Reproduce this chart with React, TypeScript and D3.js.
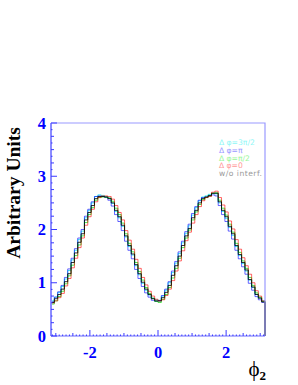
import { useEffect, useRef } from "react";
import * as d3 from "d3";

// 64 bins over [-pi, pi]
const black = [0.63,0.70,0.78,0.88,1.02,1.17,1.38,1.56,1.76,1.92,2.18,2.32,2.45,2.58,2.62,2.62,2.61,2.58,2.50,2.36,2.24,2.08,1.88,1.70,1.54,1.34,1.17,1.01,0.88,0.78,0.70,0.66,
  0.66,0.72,0.82,0.95,1.14,1.32,1.50,1.70,1.88,2.02,2.22,2.36,2.50,2.58,2.61,2.64,2.68,2.68,2.52,2.36,2.24,2.06,1.92,1.70,1.53,1.38,1.24,1.06,0.92,0.78,0.71,0.64];
const red = [0.62,0.66,0.72,0.80,0.94,1.08,1.28,1.46,1.66,1.84,2.08,2.24,2.38,2.52,2.60,2.63,2.63,2.62,2.57,2.45,2.32,2.18,1.98,1.80,1.63,1.44,1.27,1.10,0.96,0.84,0.75,0.69,
  0.66,0.68,0.76,0.88,1.04,1.22,1.41,1.60,1.79,1.95,2.12,2.28,2.43,2.54,2.60,2.62,2.70,2.72,2.60,2.46,2.33,2.16,2.01,1.81,1.63,1.47,1.32,1.16,1.00,0.85,0.75,0.66];
const blue = [0.64,0.73,0.83,0.95,1.10,1.26,1.46,1.64,1.84,2.00,2.25,2.38,2.52,2.62,2.63,2.62,2.60,2.55,2.44,2.28,2.15,1.98,1.78,1.61,1.45,1.25,1.08,0.93,0.81,0.73,0.67,0.65,
  0.66,0.76,0.88,1.02,1.22,1.40,1.58,1.78,1.96,2.10,2.30,2.43,2.55,2.60,2.61,2.63,2.65,2.63,2.45,2.28,2.15,1.97,1.82,1.61,1.45,1.30,1.16,0.99,0.86,0.74,0.68,0.63];
const cyan = [0.66,0.73,0.82,0.93,1.07,1.23,1.43,1.61,1.81,1.97,2.22,2.36,2.50,2.62,2.65,2.64,2.62,2.59,2.49,2.34,2.22,2.06,1.86,1.68,1.52,1.32,1.15,0.99,0.86,0.77,0.71,0.68,
  0.67,0.75,0.86,1.00,1.19,1.37,1.55,1.75,1.93,2.07,2.27,2.41,2.54,2.61,2.63,2.66,2.68,2.67,2.50,2.34,2.21,2.04,1.89,1.68,1.51,1.36,1.22,1.05,0.91,0.78,0.72,0.66];
const green = [0.60,0.66,0.74,0.84,0.98,1.13,1.33,1.51,1.71,1.88,2.13,2.28,2.41,2.55,2.60,2.61,2.61,2.59,2.53,2.40,2.28,2.12,1.92,1.74,1.58,1.38,1.21,1.05,0.91,0.80,0.71,0.65,
  0.63,0.69,0.78,0.91,1.09,1.27,1.46,1.66,1.84,1.99,2.18,2.33,2.47,2.56,2.60,2.63,2.68,2.69,2.55,2.40,2.27,2.10,1.95,1.74,1.57,1.41,1.27,1.10,0.95,0.81,0.73,0.65];

const legendLabels = ["\u0394 \u03c6=3\u03c0/2", "\u0394 \u03c6=\u03c0", "\u0394 \u03c6=\u03c0/2", "\u0394 \u03c6=0", "w/o interf."];
const legendColors = ["#8ff7f7", "#9a9aff", "#9af79a", "#ff9a9a", "#999999"];
const xTicks = [-2, 0, 2];
const yTicks = [0, 1, 2, 3, 4];

export default function App() {
  const ref = useRef<SVGSVGElement>(null);

  useEffect(() => {
    if (!ref.current) return;
    const svg = d3.select(ref.current);
    svg.selectAll("*").remove();

    const left = 51, right = 265, top = 123, bottom = 336;
    const x = d3.scaleLinear().domain([-Math.PI, Math.PI]).range([left, right]);
    const y = d3.scaleLinear().domain([0, 4]).range([bottom, top]);
    const n = black.length;
    const edge = (i: number) => -Math.PI + (i * 2 * Math.PI) / n;

    const line = d3.line<[number, number]>()
      .x(d => x(d[0]))
      .y(d => y(d[1]))
      .curve(d3.curveStepAfter);

    const series = [
      { data: cyan, color: "#00e8e8", op: 0.75 },
      { data: blue, color: "#0000ff", op: 0.6 },
      { data: green, color: "#00e000", op: 0.7 },
      { data: red, color: "#ff0000", op: 0.6 },
      { data: black, color: "#000000", op: 0.8 },
    ];
    series.forEach(s => {
      const pts: [number, number][] = [[edge(0), 0]];
      s.data.forEach((v, i) => pts.push([edge(i), v]));
      pts.push([edge(n), s.data[n - 1]]);
      pts.push([edge(n), 0]);
      svg.append("path")
        .attr("d", line(pts))
        .attr("fill", "none")
        .attr("stroke", s.color)
        .attr("stroke-opacity", s.op)
        .attr("stroke-width", 1);
    });

    // frame
    svg.append("path")
      .attr("d", `M${left},${top}H${right}V${bottom}`)
      .attr("fill", "none")
      .attr("stroke", "#9a9aff")
      .attr("stroke-width", 1.2);
    svg.append("line")
      .attr("x1", left).attr("x2", left).attr("y1", top).attr("y2", bottom)
      .attr("stroke", "#8c8cff").attr("stroke-width", 2);
    svg.append("line")
      .attr("x1", left).attr("x2", right).attr("y1", bottom).attr("y2", bottom)
      .attr("stroke", "#6a6aff").attr("stroke-width", 1);

    // x ticks
    d3.range(-31, 32).forEach(k => {
      const v = k / 10;
      const major = xTicks.includes(v);
      const mid = k % 5 === 0;
      const len = major ? 6 : mid ? 3 : 1.5;
      svg.append("line")
        .attr("x1", x(v)).attr("x2", x(v))
        .attr("y1", bottom).attr("y2", bottom - len)
        .attr("stroke", "#3a3aff").attr("stroke-width", 1);
    });
    // y ticks
    d3.range(0, 33).forEach(k => {
      const v = k / 8;
      const major = k % 8 === 0;
      const mid = k % 2 === 0;
      const len = major ? 6 : mid ? 3 : 1.5;
      svg.append("line")
        .attr("x1", left).attr("x2", left + len)
        .attr("y1", y(v)).attr("y2", y(v))
        .attr("stroke", "#3a3aff").attr("stroke-width", 1);
    });

    const tickFont = "'Liberation Serif', 'DejaVu Serif', serif";
    svg.selectAll("text.xt").data(xTicks).enter().append("text")
      .attr("x", d => x(d)).attr("y", 358)
      .attr("text-anchor", "middle")
      .attr("font-family", tickFont).attr("font-weight", "bold").attr("font-size", 16.5)
      .attr("fill", "#0000ff")
      .text(d => String(d));
    svg.selectAll("text.yt").data(yTicks).enter().append("text")
      .attr("x", 46).attr("y", d => y(d) + 5.5)
      .attr("text-anchor", "end")
      .attr("font-family", tickFont).attr("font-weight", "bold").attr("font-size", 16.5)
      .attr("fill", "#0000ff")
      .text(d => String(d));

    svg.append("text")
      .attr("transform", "translate(20,193) rotate(-90)")
      .attr("text-anchor", "middle")
      .attr("font-family", tickFont).attr("font-weight", "bold").attr("font-size", 19.5)
      .attr("fill", "#000")
      .text("Arbitrary Units");

    const xl = svg.append("text")
      .attr("x", 266).attr("y", 376)
      .attr("text-anchor", "end")
      .attr("font-family", tickFont).attr("font-size", 21)
      .attr("fill", "#000");
    xl.append("tspan").text("\u03d5");
    xl.append("tspan").attr("font-size", 13).attr("font-weight", "bold").attr("dy", 4).text("2");

    legendLabels.forEach((t, i) => {
      svg.append("text")
        .attr("x", 219).attr("y", 145 + i * 7.8)
        .attr("font-family", "'DejaVu Sans', sans-serif").attr("font-size", 7.6)
        .attr("textLength", t.length > 8 ? 43 : undefined as any)
        .attr("fill", legendColors[i])
        .text(t);
    });
  }, []);

  return (
    <svg ref={ref} width={298} height={385}
      style={{ position: "absolute", left: 0, top: 0, background: "#fff" }} />
  );
}
